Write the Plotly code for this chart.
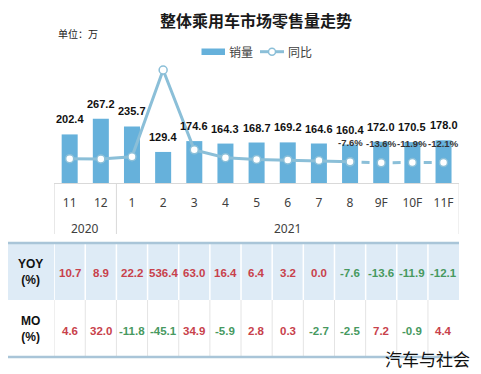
import plotly.graph_objects as go

# ---------------- data ----------------
months = ["11", "12", "1", "2", "3", "4", "5", "6", "7", "8", "9F", "10F", "11F"]
years = ["2020", "2021"]
year_span = [(0, 1), (2, 12)]  # category index ranges per year
sales = [202.4, 267.2, 235.7, 129.4, 174.6, 164.3, 168.7, 169.2, 164.6, 160.4, 172.0, 170.5, 178.0]
yoy = [10.7, 8.9, 22.2, 536.4, 63.0, 16.4, 6.4, 3.2, 0.0, -7.6, -13.6, -11.9, -12.1]
mom = [4.6, 32.0, -11.8, -45.1, 34.9, -5.9, 2.8, 0.3, -2.7, -2.5, 7.2, -0.9, 4.4]
n_actual = 10  # months up to "8" are actual; after that forecast (dashed)
labelled_yoy = [9, 10, 11, 12]  # points with YOY % labels

title = "整体乘用车市场零售量走势"
unit = "单位：万"
legend_names = ["销量", "同比"]
row_labels = ["YOY<br>(%)", "MO<br>(%)"]
watermark = "汽车与社会"

# ---------------- styles ----------------
W, H = 481, 374
BAR = "#66b1db"
LINE = "#8bbfd8"
RED = "#c8414b"
GREEN = "#47995f"
GRID = "#d9d9d9"
TXT = "#404040"
CJK = "Noto Sans CJK SC"
LAT = "Liberation Sans, Arial"


def px(x):
    return x / W


def py(y):
    return 1 - y / H


fig = go.Figure()

fig.add_trace(go.Bar(
    x=months, y=sales, marker=dict(color=BAR, line=dict(width=0)),
    name=legend_names[0], showlegend=False, hoverinfo="skip"))

fig.add_trace(go.Scatter(
    x=months[:n_actual], y=yoy[:n_actual], yaxis="y2", mode="lines+markers",
    line=dict(color=LINE, width=3),
    marker=dict(size=8, color="white", line=dict(color=LINE, width=1.5)),
    name=legend_names[1], showlegend=False, hoverinfo="skip"))

fig.add_trace(go.Scatter(
    x=months[n_actual - 1:], y=yoy[n_actual - 1:], yaxis="y2", mode="lines+markers",
    line=dict(color=LINE, width=3, dash="0px,11.5px,8px,11.6px"),
    marker=dict(size=8, color="white", line=dict(color=LINE, width=1.5)),
    showlegend=False, hoverinfo="skip"))

annotations = []
shapes = []


def ann(**kw):
    base = dict(showarrow=False, xanchor="center", yanchor="middle")
    base.update(kw)
    annotations.append(base)


# bar value labels (x as category index)
for i, v in enumerate(sales):
    ann(x=i, y=v, xref="x", yref="y", text=f"<b>{v:.1f}</b>", yshift=15,
        font=dict(family=LAT, size=11, color="#111111"))

# YOY labels on forecast part
for i in labelled_yoy:
    ann(x=i, y=yoy[i], xref="x", yref="y2", text=f"<b>{yoy[i]:.1f}%</b>", yshift=19,
        font=dict(family=LAT, size=9.5, color="#333333"))

# year labels and group box
for (a, b), yr in zip(year_span, years):
    ann(x=(a + b) / 2, y=py(228), xref="x", yref="paper", text=yr,
        font=dict(family="Noto Sans", size=12, color=TXT))
box_edges = [year_span[0][0] - 0.5] + [b + 0.5 for a, b in year_span]
for xe in box_edges:
    shapes.append(dict(type="line", xref="x", yref="paper", x0=xe, x1=xe,
                       y0=py(183), y1=py(234), line=dict(color=GRID, width=1)))

# ---------------- table ----------------
shapes.append(dict(type="rect", xref="paper", yref="paper", x0=px(8), x1=px(459),
                   y0=py(300), y1=py(243), fillcolor="#deebf6", line=dict(width=0), layer="below"))
for xe in [i - 0.5 for i in range(len(months))]:
    shapes.append(dict(type="line", xref="x", yref="paper", x0=xe, x1=xe,
                       y0=py(300), y1=py(244), line=dict(color="white", width=1.5)))
    shapes.append(dict(type="line", xref="x", yref="paper", x0=xe, x1=xe,
                       y0=py(356), y1=py(300), line=dict(color="#e4e4e4", width=1)))
for yl in (243, 357):
    shapes.append(dict(type="line", xref="paper", yref="paper", x0=px(8), x1=px(459),
                       y0=py(yl), y1=py(yl), line=dict(color="#a9c5d8", width=2.5)))

for lab, yc in zip(row_labels, (271.5, 328.5)):
    ann(x=px(30), y=py(yc), xref="paper", yref="paper", text=f"<b>{lab}</b>",
        font=dict(family=LAT, size=12, color="#111111"))

for vals, yc in ((yoy, 273), (mom, 331)):
    for i, v in enumerate(vals):
        ann(x=i, y=py(yc), xref="x", yref="paper", text=f"<b>{v:.1f}</b>",
            font=dict(family=LAT, size=11.5, color=RED if v >= 0 else GREEN))

# ---------------- title / unit / legend / watermark ----------------
ann(x=px(256), y=py(20), xref="paper", yref="paper", text=f"<b>{title}</b>",
    font=dict(family=CJK, size=16, color="#1a1a1a"))
ann(x=px(78), y=py(33), xref="paper", yref="paper", text=unit,
    font=dict(family=CJK, size=10, color="#1a1a1a"))

shapes.append(dict(type="rect", xref="paper", yref="paper", x0=px(201.5), x1=px(225),
                   y0=py(55), y1=py(48.5), fillcolor=BAR, line=dict(width=0)))
ann(x=px(227), y=py(51.7), xref="paper", yref="paper", text=legend_names[0], xanchor="left",
    font=dict(family=CJK, size=12, color=TXT))
shapes.append(dict(type="line", xref="paper", yref="paper", x0=px(260), x1=px(284),
                   y0=py(51.7), y1=py(51.7), line=dict(color=LINE, width=3)))
shapes.append(dict(type="circle", xref="paper", yref="paper", x0=px(268.5), x1=px(275.5),
                   y0=py(55.2), y1=py(48.2), fillcolor="white", line=dict(color=LINE, width=1.5)))
ann(x=px(285.5), y=py(51.7), xref="paper", yref="paper", text=legend_names[1], xanchor="left",
    font=dict(family=CJK, size=12, color=TXT))

ann(x=px(427.5), y=py(358), xref="paper", yref="paper", text=watermark,
    font=dict(family=CJK, size=17, color="#111111"))

fig.update_layout(
    width=W, height=H,
    margin=dict(l=0, r=0, t=0, b=0),
    paper_bgcolor="white", plot_bgcolor="white",
    bargap=0.486,
    showlegend=False,
    xaxis=dict(domain=[px(54.1), px(459.1)], type="category", range=[-0.5, len(months) - 0.5],
               showline=True, linecolor=GRID, linewidth=1, showgrid=False, zeroline=False,
               ticks="", ticklabelstandoff=9,
               tickfont=dict(family="Noto Sans", size=12, color=TXT), fixedrange=True),
    yaxis=dict(domain=[py(183), py(60)], range=[0, 512.5], visible=False, fixedrange=True),
    yaxis2=dict(overlaying="y", range=[-133.4, 595.7], visible=False, fixedrange=True),
    annotations=annotations,
    shapes=shapes,
)

fig.write_html("out.html", config={"displayModeBar": False},
               post_script="document.body.style.margin='0';document.body.style.overflow='hidden';")
